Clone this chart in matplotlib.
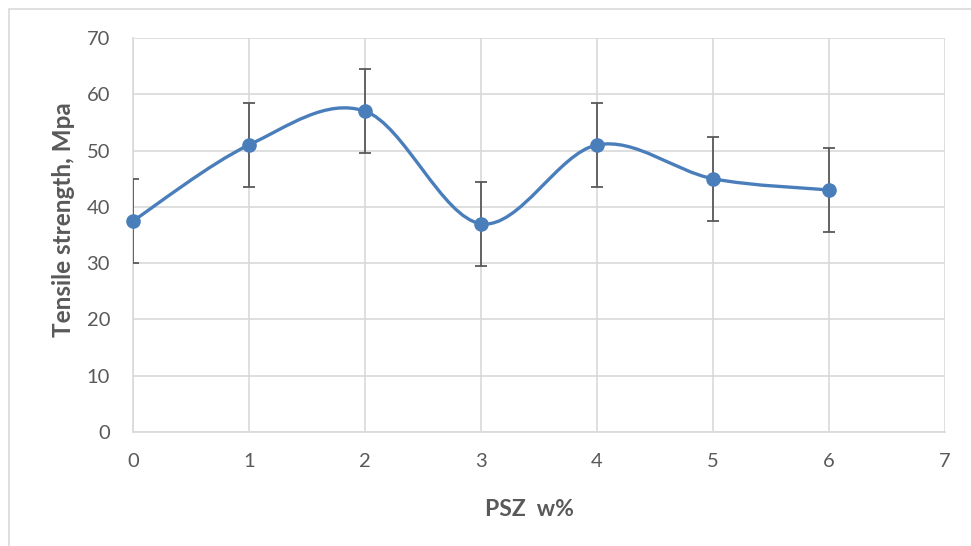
#!/usr/bin/env python3
"""Tensile strength vs PSZ content, smoothed line with error bars."""

import matplotlib

matplotlib.use("Agg")
import matplotlib.pyplot as plt
import numpy as np
from matplotlib.patches import PathPatch, Rectangle
from matplotlib.path import Path

PSZ = [0, 1, 2, 3, 4, 5, 6]
STRENGTH = [37.5, 51, 57, 37, 51, 45, 43]
ERR = [7.5, 7.5, 7.5, 7.5, 7.5, 7.5, 7.5]

LINE_COLOR = "#4a7ebb"
ERR_COLOR = "#595959"
GRID_COLOR = "#d9d9d9"
TEXT_COLOR = "#595959"

plt.rcParams["font.family"] = ["Lato", "DejaVu Sans"]


def smooth_path(xs, ys):
    # Excel-style smoothing: cubic Bezier segments with Catmull-Rom tangents
    pts = np.column_stack([xs, ys]).astype(float)
    n = len(pts)
    verts = [pts[0]]
    codes = [Path.MOVETO]
    for i in range(n - 1):
        p_prev = pts[max(i - 1, 0)]
        p0 = pts[i]
        p1 = pts[i + 1]
        p_next = pts[min(i + 2, n - 1)]
        c1 = p0 + (p1 - p_prev) / 6.0
        c2 = p1 - (p_next - p0) / 6.0
        verts += [c1, c2, p1]
        codes += [Path.CURVE4] * 3
    return Path(verts, codes)


def main():
    fig = plt.figure(figsize=(9.71, 5.46), dpi=100)
    ax = fig.add_axes([133 / 971, 1 - 432 / 546, 812 / 971, 394 / 546])

    # chart area border
    fig.patches.append(
        Rectangle((9 / 971, -0.1), 1.2, 1 - 8.5 / 546 + 0.1, transform=fig.transFigure,
                  fill=False, edgecolor="#d9d9d9", linewidth=1.2)
    )

    ax.set_xlim(0, 7)
    ax.set_ylim(0, 70)
    ax.set_xticks(range(0, 8))
    ax.set_yticks(range(0, 71, 10))
    ax.grid(True, color=GRID_COLOR, linewidth=1.2)
    ax.set_axisbelow(True)
    for side in ["top", "right"]:
        ax.spines[side].set_visible(False)
    for side in ["left", "bottom"]:
        ax.spines[side].set_color(GRID_COLOR)
        ax.spines[side].set_linewidth(1.2)
    ax.tick_params(length=0, labelsize=14.5, labelcolor=TEXT_COLOR)
    ax.tick_params(axis="x", pad=15)
    ax.tick_params(axis="y", pad=16.5)

    ax.add_patch(PathPatch(smooth_path(PSZ, STRENGTH), facecolor="none",
                           edgecolor=LINE_COLOR, linewidth=2.4, zorder=3))

    ax.errorbar(PSZ, STRENGTH, yerr=ERR, fmt="none", ecolor=ERR_COLOR,
                elinewidth=1.3, capsize=4.5, capthick=1.3, zorder=4)
    pts = ax.plot(PSZ, STRENGTH, "o", color=LINE_COLOR, markersize=9.5, zorder=5)
    for p in pts:
        p.set_clip_on(False)

    ax.set_xlabel("PSZ  w%", fontsize=16.5, fontweight="bold", color=TEXT_COLOR)
    ax.xaxis.set_label_coords(0.4877, -0.17)
    ax.set_ylabel("Tensile strength, Mpa", fontsize=17.5, fontweight="bold",
                  color=TEXT_COLOR)
    ax.yaxis.set_label_coords(-0.071, 0.538)

    fig.savefig("out.png", dpi=100)


if __name__ == "__main__":
    main()
